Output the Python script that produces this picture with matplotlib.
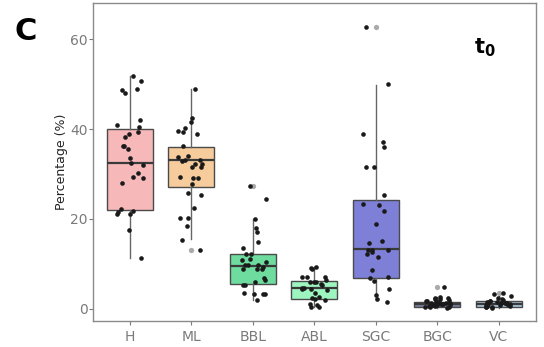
import numpy as np
import matplotlib
matplotlib.use("Agg")
import matplotlib.pyplot as plt

# categories and colours
cats = ["H", "ML", "BBL", "ABL", "SGC", "BGC", "VC"]
fills = ["#F7B8BA", "#F6CC9C", "#6EDC9E", "#9DF5C0", "#7E80D8", "#7A7F9E", "#A8C4DA"]

# box statistics
q1 = [22.0, 27.0, 5.6, 2.2, 6.9, 0.4, 0.3]
med = [32.5, 33.0, 9.6, 4.7, 13.4, 1.1, 1.1]
q3 = [40.0, 36.1, 12.2, 6.2, 24.3, 1.6, 1.8]
whislo = [11.4, 15.6, 2.0, 0.3, 2.0, 0.1, 0.1]
whishi = [51.9, 48.8, 20.0, 9.3, 49.7, 2.7, 2.9]
outliers = [[], [13.1], [27.4], [], [62.6], [4.9], [3.6]]

# individual points (jittered)
pts_H = [51.9, 50.6, 49.0, 48.6, 48.1, 42.1, 41.0, 40.5, 39.4, 39.0, 38.3, 36.3, 36.3,
         35.6, 33.6, 32.5, 32.0, 30.3, 29.4, 29.2, 28.0, 22.3, 21.8, 21.5, 21.2, 21.0,
         17.6, 11.4]
pts_ML = [48.8, 42.5, 41.6, 40.3, 39.5, 39.3, 39.0, 36.3, 34.1, 33.8, 33.0, 32.8, 33.0,
          32.3, 31.6, 31.5, 32.2, 29.0, 29.4, 29.2, 27.8, 25.4, 25.8, 22.5, 20.3, 20.3,
          18.5, 15.4, 13.1]
pts_BBL = [27.4, 24.5, 20.0, 18.0, 17.2, 14.9, 13.6, 12.2, 12.2, 11.1, 10.9, 10.5, 9.8,
           9.8, 9.8, 9.4, 8.9, 8.9, 8.9, 6.5, 6.9, 6.0, 5.3, 5.3, 3.3, 3.3, 3.6, 3.3, 2.0]
pts_ABL = [9.4, 9.1, 8.9, 7.1, 7.1, 7.1, 6.0, 6.0, 6.0, 5.6, 4.7, 4.5, 4.5, 4.7, 4.3,
           2.7, 2.4, 2.2, 2.0, 1.1, 0.9, 0.4, 0.4, 3.5, 5.2, 6.5]
pts_SGC = [62.6, 50.0, 39.0, 37.2, 35.9, 31.6, 31.6, 25.4, 23.4, 23.2, 21.8, 18.9, 15.1,
           14.7, 13.1, 13.1, 12.2, 12.7, 13.1, 11.6, 8.7, 6.9, 7.1, 6.2, 4.5, 3.1, 2.2, 1.6]
pts_BGC = [4.9, 2.7, 2.5, 2.4, 2.1, 1.9, 1.8, 1.6, 1.5, 1.4, 1.3, 1.2, 1.1, 1.0, 1.0,
           0.9, 0.8, 0.7, 0.6, 0.5, 0.4, 0.3, 0.2, 1.7, 1.2, 0.8, 2.2]
pts_VC = [3.6, 3.3, 2.9, 2.5, 2.2, 2.0, 1.8, 1.6, 1.5, 1.4, 1.3, 1.2, 1.1, 1.0, 1.0,
          0.9, 0.8, 0.7, 0.6, 0.5, 0.4, 0.3, 0.2, 1.7, 1.2, 0.9]
points = [pts_H, pts_ML, pts_BBL, pts_ABL, pts_SGC, pts_BGC, pts_VC]

fig = plt.figure(figsize=(5.44, 3.47), dpi=100)
ax = fig.add_axes([0.171, 0.075, 0.814, 0.916])

stats = []
for i in range(len(cats)):
    stats.append(dict(med=med[i], q1=q1[i], q3=q3[i], whislo=whislo[i],
                      whishi=whishi[i], fliers=outliers[i]))

pos = np.arange(1, len(cats) + 1)
bp = ax.bxp(stats, positions=pos, widths=0.75, patch_artist=True,
            showcaps=False,
            boxprops=dict(edgecolor="#4a4a4a", linewidth=1.0),
            medianprops=dict(color="#3a3a3a", linewidth=1.6),
            whiskerprops=dict(color="#666666", linewidth=1.0),
            flierprops=dict(marker="o", markersize=3.8, markerfacecolor="#aaaaaa",
                            markeredgecolor="none"))
for patch, c in zip(bp["boxes"], fills):
    patch.set_facecolor(c)

# jitter, like geom_jitter
rng = np.random.default_rng(7)
for i, vals in enumerate(points):
    x = pos[i] + rng.uniform(-0.22, 0.22, len(vals))
    ax.scatter(x, vals, s=11, color="#1a1a1a", zorder=3, linewidths=0)

ax.set_xlim(0.4, 7.6)
ax.set_ylim(-2.7, 68)
ax.set_xticks(pos)
ax.set_xticklabels(cats)
ax.set_yticks([0, 20, 40, 60])
ax.tick_params(colors="#7a7a7a", labelsize=10, length=3, width=0.8)
ax.tick_params(axis="y", pad=1)
for s in ax.spines.values():
    s.set_color("#8a8a8a")
    s.set_linewidth(1.0)
ax.set_ylabel("Percentage (%)", fontsize=9, color="#222222", labelpad=1)

fig.text(0.047, 0.91, "C", fontsize=22, fontweight="bold", ha="center", va="center")
ax.text(0.885, 0.86, r"$\mathbf{t_0}$", transform=ax.transAxes, fontsize=15,
        ha="center", va="center")

fig.savefig("out.png", dpi=100)
